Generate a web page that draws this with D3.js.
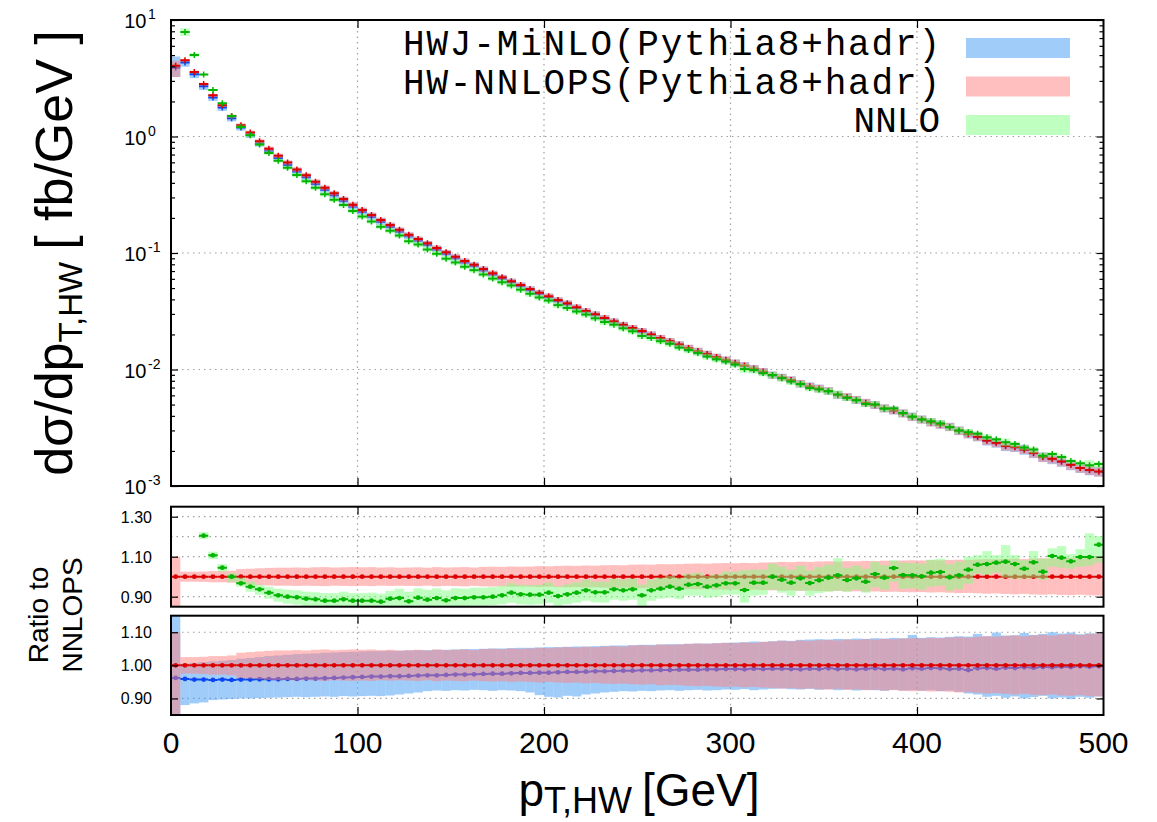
<!DOCTYPE html>
<html>
<head>
<meta charset="utf-8">
<script src="https://cdn.jsdelivr.net/npm/d3@7"></script>
<style>
  body { margin: 0; background: #fff; }
  svg { display: block; }
  text { font-family: "Liberation Sans", Arial, Helvetica, sans-serif; fill: #000; }
</style>
</head>
<body>
<svg id="graph" width="1157" height="822"></svg>
<script>
// lower edge of each pT bin [GeV], bins are 5 GeV wide
var ptLow = [0, 5, 10, 15, 20, 25, 30, 35, 40, 45,
    50, 55, 60, 65, 70, 75, 80, 85, 90, 95,
    100, 105, 110, 115, 120, 125, 130, 135, 140, 145,
    150, 155, 160, 165, 170, 175, 180, 185, 190, 195,
    200, 205, 210, 215, 220, 225, 230, 235, 240, 245,
    250, 255, 260, 265, 270, 275, 280, 285, 290, 295,
    300, 305, 310, 315, 320, 325, 330, 335, 340, 345,
    350, 355, 360, 365, 370, 375, 380, 385, 390, 395,
    400, 405, 410, 415, 420, 425, 430, 435, 440, 445,
    450, 455, 460, 465, 470, 475, 480, 485, 490, 495];
var binWidth = 5;

// HW-NNLOPS central value, dsigma/dpT [fb/GeV]
var nnlopsXs = [4.05, 4.51, 3.58, 2.82, 2.26, 1.85, 1.50, 1.25, 1.08, 0.909,
    0.786, 0.684, 0.598, 0.521, 0.465, 0.409, 0.363, 0.325, 0.291, 0.260,
    0.234, 0.212, 0.192, 0.174, 0.158, 0.1436, 0.1319, 0.1212, 0.1104, 0.1014,
    0.0929, 0.0854, 0.0794, 0.0729, 0.0670, 0.0618, 0.0572, 0.0531, 0.0491, 0.0456,
    0.0425, 0.0395, 0.0370, 0.0342, 0.0318, 0.0298, 0.0277, 0.0259, 0.0242, 0.0227,
    0.0214, 0.0200, 0.0186, 0.0175, 0.0164, 0.0153, 0.0144, 0.0136, 0.0128, 0.0121,
    0.0114, 0.0108, 0.0102, 0.0096, 0.00895, 0.00855, 0.00813, 0.00755, 0.00717, 0.00687,
    0.00654, 0.00606, 0.00581, 0.00549, 0.00518, 0.00496, 0.00464, 0.00445, 0.00420, 0.00392,
    0.00372, 0.00352, 0.00337, 0.00321, 0.00298, 0.00280, 0.00265, 0.00246, 0.00235, 0.00221,
    0.00216, 0.00206, 0.00192, 0.00177, 0.00171, 0.00162, 0.00152, 0.00143, 0.00137, 0.00133];

// NNLOPS scale band, as ratio to NNLOPS
var nnlopsLo = [0.800, 0.975, 0.975, 0.974, 0.972, 0.972, 0.970, 0.962, 0.960, 0.958,
    0.956, 0.955, 0.955, 0.954, 0.955, 0.954, 0.953, 0.955, 0.954, 0.953,
    0.954, 0.953, 0.955, 0.954, 0.955, 0.954, 0.953, 0.955, 0.952, 0.954,
    0.953, 0.952, 0.954, 0.952, 0.951, 0.952, 0.950, 0.951, 0.950, 0.948,
    0.950, 0.948, 0.947, 0.948, 0.946, 0.947, 0.945, 0.944, 0.945, 0.943,
    0.942, 0.943, 0.940, 0.941, 0.940, 0.938, 0.937, 0.938, 0.936, 0.935,
    0.936, 0.934, 0.935, 0.933, 0.932, 0.930, 0.931, 0.929, 0.930, 0.928,
    0.927, 0.929, 0.926, 0.927, 0.925, 0.926, 0.924, 0.925, 0.923, 0.922,
    0.923, 0.921, 0.922, 0.920, 0.918, 0.919, 0.917, 0.915, 0.916, 0.914,
    0.912, 0.914, 0.911, 0.910, 0.912, 0.909, 0.908, 0.910, 0.907, 0.906];
var nnlopsHi = [1.100, 1.025, 1.025, 1.026, 1.028, 1.028, 1.030, 1.038, 1.040, 1.042,
    1.044, 1.045, 1.045, 1.046, 1.045, 1.047, 1.048, 1.046, 1.047, 1.048,
    1.047, 1.048, 1.046, 1.047, 1.045, 1.046, 1.047, 1.045, 1.048, 1.046,
    1.047, 1.048, 1.046, 1.049, 1.050, 1.049, 1.051, 1.050, 1.051, 1.053,
    1.052, 1.054, 1.055, 1.054, 1.056, 1.055, 1.057, 1.058, 1.057, 1.060,
    1.061, 1.060, 1.063, 1.062, 1.063, 1.065, 1.066, 1.065, 1.067, 1.068,
    1.067, 1.069, 1.068, 1.071, 1.072, 1.074, 1.073, 1.075, 1.074, 1.076,
    1.077, 1.075, 1.078, 1.077, 1.079, 1.078, 1.080, 1.079, 1.081, 1.082,
    1.081, 1.083, 1.082, 1.084, 1.085, 1.084, 1.086, 1.088, 1.087, 1.089,
    1.090, 1.088, 1.091, 1.092, 1.090, 1.093, 1.094, 1.092, 1.095, 1.096];

// NNLO / NNLOPS (first bin not available)
var nnloRatio = [null, 1.75, 1.40, 1.205, 1.107, 1.045, 1.000, 0.967, 0.950, 0.937,
    0.920, 0.907, 0.900, 0.897, 0.890, 0.887, 0.880, 0.880, 0.887, 0.880,
    0.880, 0.880, 0.875, 0.890, 0.893, 0.877, 0.895, 0.885, 0.893, 0.882,
    0.893, 0.893, 0.897, 0.897, 0.900, 0.907, 0.920, 0.912, 0.910, 0.910,
    0.920, 0.903, 0.912, 0.920, 0.932, 0.922, 0.922, 0.937, 0.932, 0.937,
    0.907, 0.932, 0.940, 0.950, 0.940, 0.960, 0.963, 0.950, 0.957, 0.967,
    0.967, 0.933, 0.970, 0.970, 1.000, 0.985, 0.970, 0.992, 0.968, 0.982,
    0.995, 1.007, 0.983, 0.992, 0.975, 1.013, 0.995, 1.043, 1.008, 1.007,
    1.002, 1.020, 1.023, 0.997, 1.007, 1.035, 1.060, 1.063, 1.070, 1.075,
    1.063, 1.040, 1.072, 1.025, 1.103, 1.095, 1.077, 1.098, 1.098, 1.160];
var nnloLo = [null, 1.62, 1.35, 1.188, 1.088, 1.025, 0.975, 0.950, 0.925, 0.910,
    0.890, 0.875, 0.865, 0.860, 0.852, 0.848, 0.842, 0.843, 0.848, 0.842,
    0.840, 0.842, 0.838, 0.850, 0.852, 0.840, 0.855, 0.845, 0.852, 0.843,
    0.850, 0.852, 0.855, 0.855, 0.858, 0.862, 0.870, 0.862, 0.860, 0.862,
    0.868, 0.855, 0.862, 0.870, 0.880, 0.872, 0.870, 0.885, 0.880, 0.885,
    0.855, 0.880, 0.890, 0.895, 0.888, 0.905, 0.905, 0.895, 0.900, 0.910,
    0.910, 0.870, 0.905, 0.910, 0.935, 0.920, 0.905, 0.930, 0.905, 0.918,
    0.925, 0.930, 0.925, 0.935, 0.920, 0.948, 0.935, 0.975, 0.940, 0.942,
    0.935, 0.950, 0.955, 0.930, 0.938, 0.965, 1.015, 1.010, 1.020, 0.995,
    0.990, 0.990, 0.995, 0.985, 1.050, 1.045, 1.040, 1.050, 1.055, 1.070];
var nnloHi = [null, 1.88, 1.45, 1.223, 1.125, 1.063, 1.018, 0.995, 0.975, 0.960,
    0.950, 0.940, 0.935, 0.932, 0.925, 0.922, 0.918, 0.918, 0.925, 0.918,
    0.918, 0.920, 0.915, 0.930, 0.940, 0.925, 0.942, 0.935, 0.942, 0.932,
    0.942, 0.940, 0.945, 0.945, 0.948, 0.955, 0.968, 0.960, 0.958, 0.960,
    0.970, 0.952, 0.962, 0.972, 0.985, 0.975, 0.975, 0.990, 0.985, 0.990,
    0.960, 0.985, 0.995, 1.005, 0.995, 1.015, 1.020, 1.005, 1.012, 1.025,
    1.025, 1.033, 1.035, 1.035, 1.065, 1.050, 1.035, 1.055, 1.032, 1.048,
    1.060, 1.093, 1.045, 1.055, 1.040, 1.075, 1.058, 1.083, 1.070, 1.068,
    1.065, 1.085, 1.090, 1.062, 1.075, 1.100, 1.108, 1.128, 1.108, 1.158,
    1.108, 1.083, 1.128, 1.090, 1.142, 1.153, 1.113, 1.138, 1.217, 1.203];

// HWJ-MiNLO / NNLOPS
var minloRatio = [0.962, 0.959, 0.957, 0.957, 0.956, 0.957, 0.956, 0.957, 0.957, 0.958,
    0.958, 0.958, 0.959, 0.959, 0.960, 0.960, 0.961, 0.962, 0.963, 0.964,
    0.965, 0.966, 0.966, 0.967, 0.967, 0.968, 0.969, 0.970, 0.970, 0.971,
    0.972, 0.972, 0.973, 0.974, 0.975, 0.975, 0.976, 0.977, 0.977, 0.978,
    0.978, 0.979, 0.980, 0.980, 0.981, 0.982, 0.982, 0.983, 0.984, 0.984,
    0.985, 0.985, 0.986, 0.986, 0.987, 0.987, 0.987, 0.988, 0.988, 0.989,
    0.989, 0.988, 0.990, 0.989, 0.990, 0.990, 0.989, 0.988, 0.990, 0.989,
    0.991, 0.989, 0.990, 0.988, 0.990, 0.991, 0.989, 0.990, 0.988, 0.991,
    0.990, 0.992, 0.991, 0.989, 0.990, 0.986, 0.991, 0.992, 0.990, 0.993,
    0.992, 0.994, 0.993, 0.995, 0.994, 0.996, 0.995, 0.997, 0.996, 0.997];
var minloLo = [0.800, 0.880, 0.885, 0.888, 0.895, 0.897, 0.898, 0.900, 0.900, 0.901,
    0.902, 0.903, 0.904, 0.905, 0.904, 0.905, 0.906, 0.905, 0.907, 0.906,
    0.907, 0.908, 0.907, 0.909, 0.912, 0.915, 0.918, 0.922, 0.924, 0.923,
    0.925, 0.924, 0.926, 0.925, 0.923, 0.925, 0.924, 0.922, 0.918, 0.910,
    0.905, 0.903, 0.908, 0.906, 0.912, 0.915, 0.918, 0.920, 0.922, 0.921,
    0.923, 0.922, 0.924, 0.925, 0.923, 0.925, 0.926, 0.924, 0.925, 0.927,
    0.926, 0.928, 0.925, 0.927, 0.929, 0.930, 0.928, 0.927, 0.929, 0.926,
    0.928, 0.925, 0.927, 0.924, 0.926, 0.925, 0.923, 0.926, 0.924, 0.925,
    0.923, 0.925, 0.922, 0.924, 0.920, 0.915, 0.912, 0.905, 0.908, 0.902,
    0.906, 0.900, 0.904, 0.908, 0.900, 0.903, 0.898, 0.905, 0.902, 0.906];
var minloHi = [1.200, 1.005, 1.008, 1.010, 1.012, 1.014, 1.016, 1.020, 1.022, 1.025,
    1.028, 1.030, 1.032, 1.034, 1.035, 1.036, 1.038, 1.039, 1.040, 1.041,
    1.042, 1.043, 1.043, 1.044, 1.044, 1.045, 1.046, 1.046, 1.047, 1.047,
    1.048, 1.049, 1.049, 1.050, 1.051, 1.051, 1.052, 1.053, 1.053, 1.054,
    1.055, 1.055, 1.056, 1.057, 1.057, 1.058, 1.059, 1.060, 1.060, 1.061,
    1.062, 1.062, 1.063, 1.064, 1.064, 1.065, 1.066, 1.066, 1.067, 1.068,
    1.069, 1.070, 1.072, 1.071, 1.073, 1.075, 1.074, 1.077, 1.078, 1.079,
    1.078, 1.080, 1.079, 1.081, 1.080, 1.082, 1.081, 1.083, 1.082, 1.092,
    1.083, 1.085, 1.084, 1.086, 1.088, 1.087, 1.095, 1.088, 1.099, 1.090,
    1.091, 1.098, 1.092, 1.095, 1.100, 1.096, 1.099, 1.094, 1.097, 1.096];

var xTicks = [0, 100, 200, 300, 400, 500];
var mainDecades = [1e-3, 1e-2, 1e-1, 1, 10];
var r1Labels = [0.90, 1.10, 1.30];
var r1Grid = [0.90, 1.00, 1.10, 1.20, 1.30];
var r2Labels = [0.90, 1.00, 1.10];
var legendNames = ["HWJ-MiNLO(Pythia8+hadr)", "HW-NNLOPS(Pythia8+hadr)", "NNLO"];

var blue = { fill: "#4199f5", line: "#0a46f0" };
var red = { fill: "#ff8080", line: "#dc0000" };
var green = { fill: "#80ff80", line: "#00b400" };

var svg = d3.select("#graph");
var L = 171, R = 1103.5;
var x = d3.scaleLinear().domain([0, 500]).range([L, R]);
var yMain = d3.scaleLog().domain([1e-3, 10]).range([486, 20]);
var yR1 = d3.scaleLinear().domain([0.85, 1.35]).range([606.7, 506.7]);
var yR2 = d3.scaleLinear().domain([0.85, 1.15]).range([715, 615.7]);

var bins = ptLow.map((lo, i) => ({ i: i, lo: lo, hi: lo + binWidth }));

function clip(id, y) {
    svg.append("clipPath").attr("id", id).append("rect")
        .attr("x", L).attr("y", y.range()[1])
        .attr("width", R - L).attr("height", y.range()[0] - y.range()[1]);
}
clip("cMain", yMain); clip("cR1", yR1); clip("cR2", yR2);

function grid(y, yVals) {
    var g = svg.append("g")
        .attr("stroke", "#a0a0a0").attr("stroke-width", 1.2).attr("stroke-dasharray", "1.5,4");
    g.selectAll(null).data([100, 200, 300, 400]).enter().append("line")
        .attr("x1", d => x(d)).attr("x2", d => x(d))
        .attr("y1", y.range()[1]).attr("y2", y.range()[0]);
    g.selectAll(null).data(yVals).enter().append("line")
        .attr("x1", L).attr("x2", R)
        .attr("y1", d => y(d)).attr("y2", d => y(d));
}
grid(yMain, [1e-2, 1e-1, 1]);
grid(yR1, r1Grid);
grid(yR2, r2Labels);

// one series: band per bin, central line per bin, marker at bin centre
function series(y, clipId, s, col, mark) {
    var g = svg.append("g").attr("clip-path", "url(#" + clipId + ")");
    var data = bins.filter(b => s.c(b.i) != null);
    g.selectAll(null).data(data).enter().append("rect")
        .attr("x", d => x(d.lo)).attr("width", d => x(d.hi) - x(d.lo))
        .attr("y", d => y(s.hi(d.i)))
        .attr("height", d => y(s.lo(d.i)) - y(s.hi(d.i)))
        .attr("fill", col.fill).attr("fill-opacity", 0.5);
    g.selectAll(null).data(data).enter().append("line")
        .attr("x1", d => x(d.lo)).attr("x2", d => x(d.hi))
        .attr("y1", d => y(s.c(d.i))).attr("y2", d => y(s.c(d.i)))
        .attr("stroke", col.line).attr("stroke-width", 2);
    if (mark == "bar") {
        g.selectAll(null).data(data).enter().append("line")
            .attr("x1", d => x(d.lo + binWidth / 2)).attr("x2", d => x(d.lo + binWidth / 2))
            .attr("y1", d => y(s.c(d.i)) - 3).attr("y2", d => y(s.c(d.i)) + 3)
            .attr("stroke", col.line).attr("stroke-width", 1.5);
    } else {
        g.selectAll(null).data(data).enter().append("circle")
            .attr("cx", d => x(d.lo + binWidth / 2)).attr("cy", d => y(s.c(d.i)))
            .attr("r", 2.4).attr("fill", col.line);
    }
}

// main panel (NNLO and MiNLO taken as ratio times NNLOPS)
series(yMain, "cMain", {
    c: i => nnlopsXs[i] * minloRatio[i],
    lo: i => nnlopsXs[i] * minloLo[i], hi: i => nnlopsXs[i] * minloHi[i]
}, blue, "bar");
series(yMain, "cMain", {
    c: i => nnlopsXs[i],
    lo: i => nnlopsXs[i] * nnlopsLo[i], hi: i => nnlopsXs[i] * nnlopsHi[i]
}, red, "bar");
series(yMain, "cMain", {
    c: i => nnloRatio[i] == null ? null : nnlopsXs[i] * nnloRatio[i],
    lo: i => nnlopsXs[i] * nnloLo[i], hi: i => nnlopsXs[i] * nnloHi[i]
}, green, "bar");

// ratio panels
var nnlopsR = { c: i => 1, lo: i => nnlopsLo[i], hi: i => nnlopsHi[i] };
series(yR1, "cR1", nnlopsR, red, "dot");
series(yR1, "cR1", { c: i => nnloRatio[i], lo: i => nnloLo[i], hi: i => nnloHi[i] }, green, "dot");
series(yR2, "cR2", { c: i => minloRatio[i], lo: i => minloLo[i], hi: i => minloHi[i] }, blue, "dot");
series(yR2, "cR2", nnlopsR, red, "dot");

// ticks
function ticks(axis, tx, ty) {
    svg.append("g").attr("transform", "translate(" + tx + "," + ty + ")")
        .call(axis)
        .call(g => g.select(".domain").remove())
        .call(g => g.selectAll(".tick line").attr("stroke", "#000").attr("stroke-width", 1.2));
}
[yMain, yR1, yR2].forEach(function (y) {
    var inner = [100, 200, 300, 400];
    ticks(d3.axisBottom(x).tickValues(inner).tickSize(8).tickFormat(""), 0, y.range()[1]);
    ticks(d3.axisTop(x).tickValues(inner).tickSize(8).tickFormat(""), 0, y.range()[0]);
});
var minor = yMain.ticks().filter(d => mainDecades.indexOf(d) < 0);
ticks(d3.axisRight(yMain).tickValues(minor).tickSize(4).tickFormat(""), L, 0);
ticks(d3.axisLeft(yMain).tickValues(minor).tickSize(4).tickFormat(""), R, 0);
ticks(d3.axisRight(yMain).tickValues(mainDecades).tickSize(7).tickFormat(""), L, 0);
ticks(d3.axisLeft(yMain).tickValues(mainDecades).tickSize(7).tickFormat(""), R, 0);
ticks(d3.axisRight(yR1).tickValues(r1Labels).tickSize(7).tickFormat(""), L, 0);
ticks(d3.axisLeft(yR1).tickValues(r1Labels).tickSize(7).tickFormat(""), R, 0);
ticks(d3.axisRight(yR2).tickValues(r2Labels).tickSize(7).tickFormat(""), L, 0);
ticks(d3.axisLeft(yR2).tickValues(r2Labels).tickSize(7).tickFormat(""), R, 0);

// frames
[yMain, yR1, yR2].forEach(function (y) {
    svg.append("rect").attr("x", L).attr("y", y.range()[1])
        .attr("width", R - L).attr("height", y.range()[0] - y.range()[1])
        .attr("fill", "none").attr("stroke", "#000").attr("stroke-width", 2);
});

// y tick labels, main panel: 10^n
var lab = svg.append("g");
mainDecades.forEach(function (d) {
    lab.append("text").attr("x", 146.5).attr("y", yMain(d) + 8)
        .attr("text-anchor", "end").attr("font-size", 20).text("10");
    lab.append("text").attr("x", 148).attr("y", yMain(d) - 1)
        .attr("font-size", 14).text(String(Math.round(Math.log10(d))));
});
var f2 = d3.format(".2f");
[[yR1, r1Labels], [yR2, r2Labels]].forEach(function (p) {
    p[1].forEach(function (v) {
        lab.append("text").attr("x", 152).attr("y", p[0](v) + 6)
            .attr("text-anchor", "end").attr("font-size", 16).text(f2(v));
    });
});
xTicks.forEach(function (v) {
    lab.append("text").attr("x", x(v)).attr("y", 753)
        .attr("text-anchor", "middle").attr("font-size", 30).text(v);
});

// axis titles
var yt = svg.append("text").attr("transform", "translate(72,253) rotate(-90)")
    .attr("text-anchor", "middle").attr("font-size", 52);
yt.append("tspan").text("d\u03c3/dp");
yt.append("tspan").attr("font-size", 33).attr("dy", 10).text("T,HW");
yt.append("tspan").attr("dy", -10).text("[ fb/GeV ]").attr("dx", 12);

var xt = svg.append("text").attr("x", 639).attr("y", 806)
    .attr("text-anchor", "middle").attr("font-size", 46);
xt.append("tspan").text("p");
xt.append("tspan").attr("font-size", 36).attr("dy", 7).text("T,HW");
xt.append("tspan").attr("dy", -7).attr("dx", 10).text("[GeV]");

svg.append("text").attr("transform", "translate(48,615) rotate(-90)")
    .attr("text-anchor", "middle").attr("font-size", 28).text("Ratio to");
svg.append("text").attr("transform", "translate(82,615) rotate(-90)")
    .attr("text-anchor", "middle").attr("font-size", 28).text("NNLOPS");

// legend
var legCols = [blue, red, green];
var lg = svg.append("g");
legendNames.forEach(function (name, k) {
    var base = 55 + k * 38.5;
    var t = lg.append("text").attr("x", 940).attr("y", base)
        .attr("text-anchor", "end").attr("font-size", 36)
        .style("font-family", "'Liberation Mono', 'DejaVu Sans Mono', monospace")
        .text(name);
    if (name.length > 10) t.attr("textLength", 537).attr("lengthAdjust", "spacing");
    lg.append("rect").attr("x", 966).attr("y", base - 17).attr("width", 104).attr("height", 20)
        .attr("fill", legCols[k].fill).attr("fill-opacity", 0.5);
});
</script>
</body>
</html>
